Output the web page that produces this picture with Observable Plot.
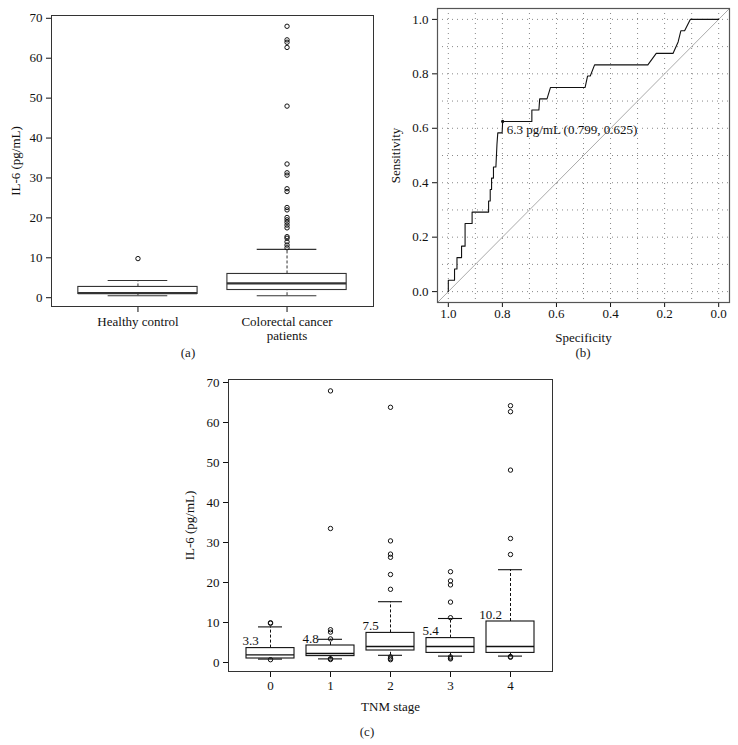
<!DOCTYPE html>
<html>
<head>
<meta charset="utf-8">
<script src="https://cdn.jsdelivr.net/npm/d3@7"></script>
<script src="https://cdn.jsdelivr.net/npm/@observablehq/plot@0.6"></script>
<style>
  html, body { margin: 0; padding: 0; background: #fff; }
  #fig { position: relative; width: 738px; height: 745px; background: #fff; font-family: "Liberation Serif", "DejaVu Serif", serif; }
  .panel { position: absolute; }
  .cap { position: absolute; font-size: 13px; color: #222; transform: translateX(-50%); }
</style>
</head>
<body>
<div id="fig">
  <div class="panel" id="pa" style="left:0px;top:0px"></div>
  <div class="panel" id="pb" style="left:370px;top:0px"></div>
  <div class="panel" id="pc" style="left:160px;top:360px"></div>
  <div class="cap" style="left:188px;top:345px">(a)</div>
  <div class="cap" style="left:583px;top:345px">(b)</div>
  <div class="cap" style="left:367px;top:724px">(c)</div>
</div>
<script>
// ---------- Panel (a) data ----------
const groupA = ["Healthy control", "Colorectal cancer\npatients"];
const q1A = [0.95, 1.93];
const medA = [1.15, 3.6];
const q3A = [2.7, 5.95];
const loA = [0.5, 0.5];
const hiA = [4.3, 12.1];
const outHealthy = [9.8];
const outCancer = [68.0, 64.6, 64.0, 62.7, 48.0, 33.5, 31.3, 30.7, 27.3, 26.6, 22.6, 22.0, 20.1, 19.5, 18.9, 18.2, 17.5, 15.3, 14.9, 14.0, 13.2, 12.5];

// ---------- Panel (b) data ----------
const rocSpec = [1.000,1.000,0.977,0.977,0.968,0.968,0.951,0.951,0.938,0.938,0.912,0.912,0.851,0.851,0.845,0.845,0.840,0.840,0.833,0.833,0.824,0.822,0.820,0.817,0.801,0.799,0.691,0.691,0.665,0.662,0.635,0.622,0.494,0.485,0.475,0.459,0.262,0.231,0.169,0.150,0.140,0.126,0.105,0.000];
const rocSens = [0.000,0.042,0.042,0.083,0.083,0.125,0.125,0.167,0.167,0.250,0.250,0.292,0.292,0.333,0.333,0.375,0.375,0.417,0.417,0.458,0.458,0.500,0.542,0.583,0.583,0.625,0.625,0.667,0.667,0.708,0.708,0.750,0.750,0.792,0.792,0.833,0.833,0.875,0.875,0.917,0.958,0.958,1.000,1.000];
const cutSpec = [0.799];
const cutSens = [0.625];
const cutLabel = ["6.3 pg/mL (0.799, 0.625)"];
const diagSpec = [1.04, -0.04];
const diagSens = [-0.04, 1.04];
const gridSteps = [0, 0.1, 0.2, 0.3, 0.4, 0.5, 0.6, 0.7, 0.8, 0.9, 1.0];
const rocTicks = [0, 0.2, 0.4, 0.6, 0.8, 1.0];

// ---------- Panel (c) data ----------
const stages = [0, 1, 2, 3, 4];
const q1C = [1.0, 1.6, 3.0, 2.4, 2.4];
const medC = [1.9, 2.25, 4.0, 4.0, 4.0];
const q3C = [3.6, 4.25, 7.4, 6.1, 10.25];
const loC = [0.85, 0.9, 1.8, 1.6, 1.6];
const hiC = [8.9, 5.8, 15.2, 11.0, 23.2];
const meanC = [3.3, 4.8, 7.5, 5.4, 10.2];
const out0 = [9.8, 9.95, 0.7];
const out1 = [67.9, 33.5, 8.2, 7.6, 5.9, 0.95, 0.75];
const out2 = [63.8, 30.4, 27.1, 26.3, 22.0, 18.3, 1.4, 1.0, 0.7];
const out3 = [22.7, 20.4, 19.4, 15.1, 11.2, 1.4, 1.1, 0.9];
const out4 = [64.2, 62.7, 48.1, 31.0, 27.0, 1.5, 1.3];

const yTicks = [0, 10, 20, 30, 40, 50, 60, 70];

// ---------- common ----------
const font = { fontFamily: "Liberation Serif, DejaVu Serif, serif", fontSize: "13px", background: "transparent", color: "#111" };
const BW = 0.4;   // half box width (boxwex 0.8)
const CW = 0.2;   // half staple width

function boxMarks(boxes, outs, stroke, medW) {
  return [
    Plot.ruleX(boxes, {x: "pos", y1: "q3", y2: "hi", stroke, strokeDasharray: "3,2"}),
    Plot.ruleX(boxes, {x: "pos", y1: "lo", y2: "q1", stroke, strokeDasharray: "3,2"}),
    Plot.rect(boxes, {x1: d => d.pos - BW, x2: d => d.pos + BW, y1: "q1", y2: "q3", fill: "white", stroke, strokeWidth: 1.1}),
    Plot.ruleY(boxes, {y: "med", x1: d => d.pos - BW, x2: d => d.pos + BW, stroke, strokeWidth: medW}),
    Plot.ruleY(boxes, {y: "hi", x1: d => d.pos - CW, x2: d => d.pos + CW, stroke, strokeWidth: 1.1}),
    Plot.ruleY(boxes, {y: "lo", x1: d => d.pos - CW, x2: d => d.pos + CW, stroke, strokeWidth: 1.1}),
    Plot.dot(outs, {x: "pos", y: "v", r: 2.2, stroke: "#111", fill: "none", strokeWidth: 1})
  ];
}

// ---------- Panel (a) ----------
const boxesA = groupA.map((g, i) => ({pos: i + 1, q1: q1A[i], med: medA[i], q3: q3A[i], lo: loA[i], hi: hiA[i]}));
const outsA = [outHealthy, outCancer].flatMap((arr, i) => arr.map(v => ({pos: i + 1, v})));
const plotA = Plot.plot({
  width: 376, height: 345,
  marginLeft: 51, marginRight: 3, marginTop: 15, marginBottom: 39,
  style: font,
  x: {domain: [0.42, 2.58]},
  y: {domain: [-2.2, 70.7]},
  marks: [
    Plot.axisX({ticks: [1, 2], tickFormat: d => groupA[d - 1], tickSize: 6, tickPadding: 4, label: null, lineHeight: 1.05}),
    Plot.axisY({ticks: yTicks, tickSize: 5, tickPadding: 4, label: "IL-6 (pg/mL)", labelAnchor: "center", labelArrow: "none", labelOffset: 41}),
    ...boxMarks(boxesA, outsA, "#333", 2.2),
    Plot.frame({stroke: "#333"})
  ]
});
document.getElementById("pa").appendChild(plotA);

// ---------- Panel (b) ----------
const roc = rocSpec.map((s, i) => ({spec: s, sens: rocSens[i]}));
const cut = cutSpec.map((s, i) => ({spec: s, sens: cutSens[i], label: cutLabel[i]}));
const diag = diagSpec.map((s, i) => ({spec: s, sens: diagSens[i]}));
const plotB = Plot.plot({
  width: 368, height: 345,
  marginLeft: 67, marginRight: 9, marginTop: 8, marginBottom: 43,
  style: font,
  x: {domain: [1.04, -0.04]},
  y: {domain: [-0.04, 1.04]},
  marks: [
    Plot.ruleX(gridSteps, {x: d => d, stroke: "#888", strokeDasharray: "1,4"}),
    Plot.ruleY(gridSteps, {y: d => d, stroke: "#888", strokeDasharray: "1,4"}),
    Plot.axisX({ticks: rocTicks, tickFormat: d3.format(".1f"), tickSize: 5, tickPadding: 1, label: "Specificity", labelAnchor: "center", labelArrow: "none", labelOffset: 39}),
    Plot.axisY({ticks: rocTicks, tickFormat: d3.format(".1f"), tickSize: 5, tickPadding: 4, label: "Sensitivity", labelAnchor: "center", labelArrow: "none", labelOffset: 47}),
    Plot.line(diag, {x: "spec", y: "sens", stroke: "#aaa", strokeWidth: 1, clip: true}),
    Plot.line(roc, {x: "spec", y: "sens", stroke: "#111", strokeWidth: 1.1}),
    Plot.dot(cut, {x: "spec", y: "sens", r: 1.6, fill: "#111"}),
    Plot.text(cut, {x: "spec", y: "sens", text: "label", textAnchor: "start", dx: 4, dy: 8, fill: "#111"}),
    Plot.frame({stroke: "#555", strokeWidth: 1.2})
  ]
});
document.getElementById("pb").appendChild(plotB);

// ---------- Panel (c) ----------
const boxesC = stages.map((s, i) => ({pos: s, q1: q1C[i], med: medC[i], q3: q3C[i], lo: loC[i], hi: hiC[i], mean: meanC[i]}));
const outsC = [out0, out1, out2, out3, out4].flatMap((arr, i) => arr.map(v => ({pos: stages[i], v})));
const plotC = Plot.plot({
  width: 420, height: 385,
  marginLeft: 68, marginRight: 28, marginTop: 19, marginBottom: 74,
  style: font,
  x: {domain: [-0.7, 4.7]},
  y: {domain: [-2.25, 70.75]},
  marks: [
    Plot.axisX({ticks: stages, tickFormat: d => String(d), tickSize: 6, tickPadding: 3, label: "TNM stage", labelAnchor: "center", labelArrow: "none", labelOffset: 39}),
    Plot.axisY({ticks: yTicks, tickSize: 5, tickPadding: 4, label: "IL-6 (pg/mL)", labelAnchor: "center", labelArrow: "none", labelOffset: 44}),
    ...boxMarks(boxesC, outsC, "#111", 1.4),
    Plot.text(boxesC, {x: d => d.pos - 0.33, y: "q3", text: d => d.mean.toFixed(1), dy: -7, fill: "#111"}),
    Plot.frame({stroke: "#333"})
  ]
});
document.getElementById("pc").appendChild(plotC);
</script>
</body>
</html>
